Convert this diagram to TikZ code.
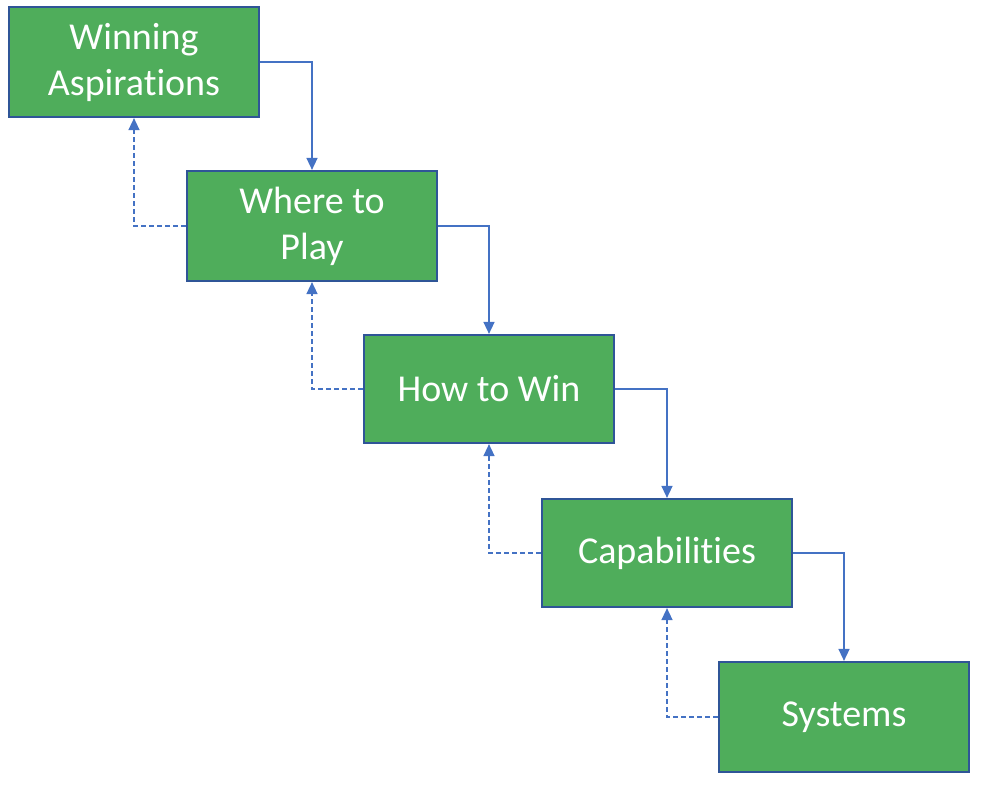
\documentclass[tikz,border=0pt]{standalone}
\usepackage{fontspec}
\setmainfont[Ligatures=NoCommon]{Carlito}
\usetikzlibrary{arrows.meta}
\definecolor{boxgreen}{HTML}{4FAD5B}
\definecolor{boxedge}{HTML}{2F5597}
\definecolor{linkblue}{HTML}{4472C4}
\tikzset{
  stage/.style={draw=boxedge,fill=boxgreen,line width=2.2pt,minimum width=250pt,minimum height=110pt,
    text=white,align=center,font=\fontsize{38}{46}\selectfont,inner sep=0pt},
  fwd/.style={draw=linkblue,line width=1.5pt,-{Triangle[length=12pt,width=11pt]}},
  back/.style={fwd,dash pattern=on 5pt off 3pt}
}
\begin{document}
\begin{tikzpicture}[x=1pt,y=1pt]
  \useasboundingbox (0,0) rectangle (982,-786);
  \node[stage] (aspire) at (134,-62) {Winning\\Aspirations};
  \node[stage] (play) at (312,-226) {Where to\\Play};
  \node[stage,minimum height=108pt] (win) at (489,-389) {How to Win};
  \node[stage,minimum height=108pt] (capab) at (667,-553) {Capabilities};
  \node[stage] (sys) at (844,-717) {Systems};
  % forward links
  \draw[fwd] (aspire.east) -| (play.north);
  \draw[fwd] (play.east) -| (win.north);
  \draw[fwd] (win.east) -| (capab.north);
  \draw[fwd] (capab.east) -| (sys.north);
  % feedback links
  \draw[back] (play.west) -| (aspire.south);
  \draw[back] (win.west) -| (play.south);
  \draw[back] (capab.west) -| (win.south);
  \draw[back] (sys.west) -| (capab.south);
\end{tikzpicture}
\end{document}
